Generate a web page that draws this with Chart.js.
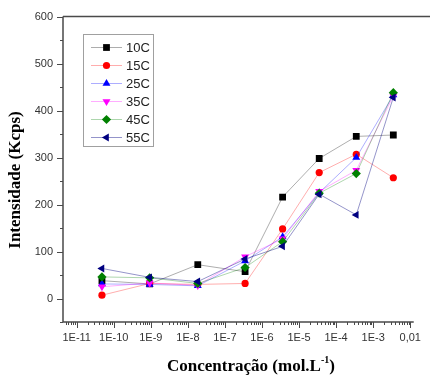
<!DOCTYPE html>
<html>
<head>
<meta charset="utf-8">
<script src="https://cdn.jsdelivr.net/npm/chart.js@4.4.1/dist/chart.umd.min.js"></script>
<style>
  html, body { margin: 0; padding: 0; background: #fff; }
  #wrap { width: 430px; height: 376px; }
</style>
</head>
<body>
<div id="wrap"><canvas id="chart" width="430" height="376"></canvas></div>
<script>
// concentration (mol/L) of each measurement
const concentrations = [4.8e-11, 9.3e-10, 1.85e-8, 3.5e-7, 3.6e-6, 3.5e-5, 3.5e-4, 3.5e-3];

const seriesLabels = ['10C', '15C', '25C', '35C', '45C', '55C'];
const intensity10C = [38, 31, 72, 57, 216, 298, 345, 348];
const intensity15C = [7, 32, 30, 32, 148, 268, 307, 257];
const intensity25C = [31, 30, 27, 80, 131, 225, 300, 433];
const intensity35C = [25, 33, 28, 89, 127, 228, 273, 431];
const intensity45C = [46, 44, 32, 66, 121, 224, 266, 438];
const intensity55C = [64, 45, 36, 84, 111, 222, 178, 428];

const yTicks = [0, 100, 200, 300, 400, 500, 600];
const yMinorTicks = [-50, 50, 150, 250, 350, 450, 550];
const xTicks = [1e-11, 1e-10, 1e-9, 1e-8, 1e-7, 1e-6, 1e-5, 1e-4, 1e-3, 1e-2];
const xTickLabels = ['1E-11', '1E-10', '1E-9', '1E-8', '1E-7', '1E-6', '1E-5', '1E-4', '1E-3', '0,01'];

const allSeries = [intensity10C, intensity15C, intensity25C, intensity35C, intensity45C, intensity55C];
const markerColors = ['#000000', '#ff0000', '#0000ff', '#ff00ff', '#008000', '#000080'];
const lineColors = ['rgba(0,0,0,0.32)', 'rgba(255,0,0,0.32)', 'rgba(0,0,255,0.32)',
                    'rgba(255,0,255,0.32)', 'rgba(0,128,0,0.32)', 'rgba(0,0,128,0.42)'];
const markerStyles = ['rect', 'circle', 'triangle', 'triangle', 'rectRot', 'triangle'];
const markerRotation = [0, 0, 0, 180, 0, -90];
const markerRadius = [4.8, 3.6, 4.6, 4.6, 4.6, 4.6];

const datasets = allSeries.map((vals, i) => ({
  label: seriesLabels[i],
  data: vals.map((v, k) => ({ x: concentrations[k], y: v })),
  borderColor: lineColors[i],
  borderWidth: 1,
  backgroundColor: markerColors[i],
  pointBackgroundColor: markerColors[i],
  pointBorderColor: markerColors[i],
  pointBorderWidth: 0,
  pointStyle: markerStyles[i],
  rotation: markerRotation[i],
  pointRadius: markerRadius[i],
  tension: 0,
  fill: false,
  order: allSeries.length - i,   // later series drawn on top
}));

const AXIS_COLOR = '#4a4a4a';

// Origin-style axes, outward ticks, legend box and axis titles
const originFrame = {
  id: 'originFrame',
  afterDraw(chart) {
    const { ctx, chartArea: a } = chart;
    const xs = chart.scales.x, ys = chart.scales.y;
    ctx.save();
    ctx.strokeStyle = AXIS_COLOR;
    ctx.lineWidth = 1.5;
    ctx.beginPath();
    ctx.moveTo(a.left, a.top); ctx.lineTo(430, a.top);
    ctx.moveTo(a.left, a.top); ctx.lineTo(a.left, a.bottom);
    ctx.moveTo(a.left, a.bottom); ctx.lineTo(a.right, a.bottom);
    ctx.stroke();

    ctx.lineWidth = 1;
    ctx.beginPath();
    // y ticks
    yTicks.forEach(v => {
      const p = Math.round(ys.getPixelForValue(v)) + 0.5;
      ctx.moveTo(a.left - 6, p); ctx.lineTo(a.left, p);
    });
    yMinorTicks.forEach(v => {
      const p = Math.round(ys.getPixelForValue(v)) + 0.5;
      ctx.moveTo(a.left - 3, p); ctx.lineTo(a.left, p);
    });
    // x ticks: decades plus log minors
    const lo = Math.floor(Math.log10(xs.min)), hi = Math.ceil(Math.log10(xs.max));
    for (let e = lo; e <= hi; e++) {
      for (let m = 1; m <= 9; m++) {
        const v = m * Math.pow(10, e);
        if (v < xs.min || v > xs.max) continue;
        const p = Math.round(xs.getPixelForValue(v)) + 0.5;
        const len = m === 1 ? 6 : 3;
        ctx.moveTo(p, a.bottom); ctx.lineTo(p, a.bottom + len);
      }
    }
    ctx.stroke();

    // legend box
    const lx = 83, ly = 34, lw = 70, lh = 112;
    ctx.strokeStyle = '#a0a0a0';
    ctx.lineWidth = 1;
    ctx.strokeRect(lx + 0.5, ly + 0.5, lw, lh);
    ctx.font = '13px "Liberation Sans", Arial, sans-serif';
    ctx.textBaseline = 'middle';
    ctx.textAlign = 'left';
    chart.data.datasets.forEach((ds, i) => {
      const yy = 47.5 + i * 18;
      ctx.strokeStyle = ds.borderColor;
      ctx.lineWidth = 1;
      ctx.beginPath();
      ctx.moveTo(91, yy); ctx.lineTo(122, yy);
      ctx.stroke();
      ctx.fillStyle = ds.pointBackgroundColor;
      ctx.strokeStyle = ds.pointBorderColor;
      Chart.helpers.drawPoint(ctx, {
        pointStyle: ds.pointStyle, radius: ds.pointRadius,
        rotation: ds.rotation, borderWidth: 0
      }, 106.5, yy);
      ctx.fillStyle = '#222';
      ctx.fillText(ds.label, 126, yy + 1);
    });

    // axis titles
    ctx.fillStyle = '#000';
    ctx.font = 'bold 17px "Liberation Serif", "Times New Roman", serif';
    ctx.textAlign = 'center';
    ctx.textBaseline = 'middle';
    ctx.save();
    ctx.translate(16, 180);
    ctx.rotate(-Math.PI / 2);
    ctx.fillText('Intensidade (Kcps)', 0, 0);
    ctx.restore();

    const main = 'Concentração (mol.L', sup = '-1', close = ')';
    const supFont = 'bold 10px "Liberation Serif", "Times New Roman", serif';
    const mainFont = 'bold 17px "Liberation Serif", "Times New Roman", serif';
    ctx.font = mainFont;
    const wMain = ctx.measureText(main).width, wClose = ctx.measureText(close).width;
    ctx.font = supFont;
    const wSup = ctx.measureText(sup).width;
    let x0 = 251 - (wMain + wSup + wClose) / 2;
    const base = 371;
    ctx.textAlign = 'left';
    ctx.textBaseline = 'alphabetic';
    ctx.font = mainFont;
    ctx.fillText(main, x0, base);
    ctx.font = supFont;
    ctx.fillText(sup, x0 + wMain, base - 8);
    ctx.font = mainFont;
    ctx.fillText(close, x0 + wMain + wSup, base);
    ctx.restore();
  }
};

new Chart(document.getElementById('chart'), {
  type: 'line',
  data: { datasets },
  options: {
    responsive: false,
    devicePixelRatio: 1,
    animation: false,
    layout: { padding: { left: 0, top: 16, right: 8, bottom: 0 } },
    plugins: { legend: { display: false }, tooltip: { enabled: false } },
    scales: {
      x: {
        type: 'logarithmic',
        min: Math.pow(10, -11.37),
        max: Math.pow(10, -1.905),
        grid: { display: false, drawTicks: false },
        border: { display: false },
        afterBuildTicks: s => { s.ticks = xTicks.map(v => ({ value: v })); },
        afterFit: s => { s.height = 54; },
        ticks: {
          autoSkip: false,
          maxRotation: 0,
          padding: 9,
          color: '#333',
          font: { family: '"Liberation Sans Narrow", "Liberation Sans", Arial', size: 11 },
          callback: (v, i) => xTickLabels[i]
        }
      },
      y: {
        min: -50,
        max: 600,
        grid: { display: false, drawTicks: false },
        border: { display: false },
        afterBuildTicks: s => { s.ticks = yTicks.map(v => ({ value: v })); },
        afterFit: s => { s.width = 63; },
        ticks: {
          padding: 10,
          color: '#333',
          font: { family: '"Liberation Sans", Arial', size: 11 },
          callback: v => String(v)
        }
      }
    }
  },
  plugins: [originFrame]
});
</script>
</body>
</html>
